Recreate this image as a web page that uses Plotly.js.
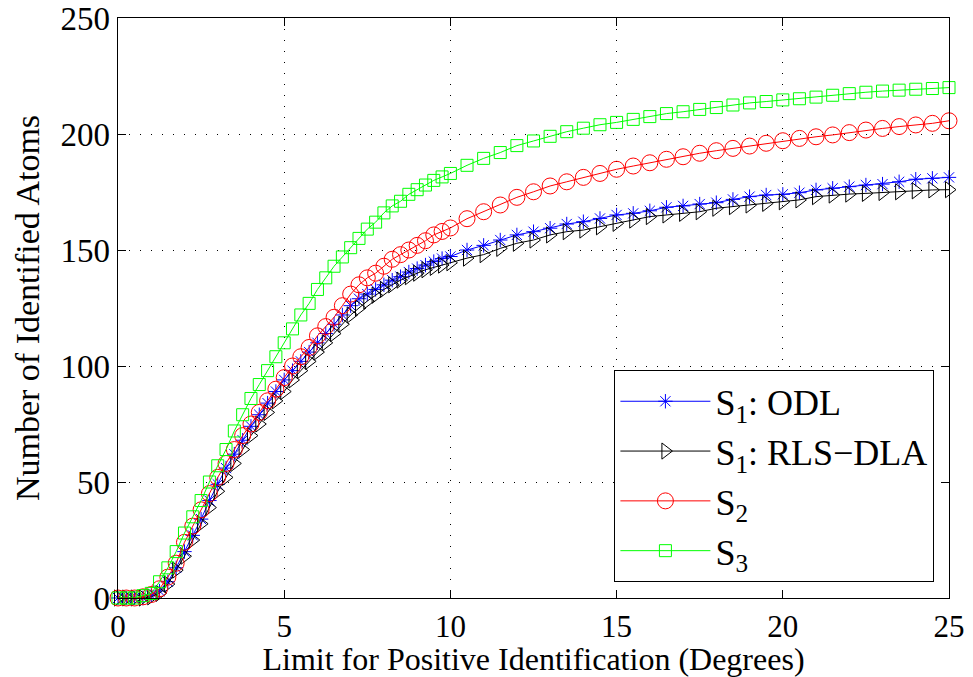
<!DOCTYPE html>
<html>
<head>
<meta charset="utf-8">
<script src="https://cdn.plot.ly/plotly-3.0.1.min.js"></script>
<style>html,body{margin:0;padding:0;background:#fff;}#chart{width:973px;height:677px;}</style>
</head>
<body>
<div id="chart"></div>
<script>
// Limit for positive identification (degrees)
const limits = [0,0.25,0.5,0.75,1,1.25,1.5,1.75,2,2.25,2.5,2.75,3,3.25,3.5,3.75,4,4.25,4.5,4.75,5,5.25,5.5,5.75,6,6.25,6.5,6.75,7,7.25,7.5,7.75,8,8.25,8.5,8.75,9,9.25,9.5,9.75,10,
  10.5,11,11.5,12,12.5,13,13.5,14,14.5,15,15.5,16,16.5,17,17.5,18,18.5,19,19.5,20,20.5,21,21.5,22,22.5,23,23.5,24,24.5,25];

const s1ODL = [0,0,0,0,1,3,7,13,20,27,34,42,49,56,62,68,74,79,84,89,94,98,102,106,110,114,118,122,126,129,131,133,135,137,138.5,140.5,142,143.5,145,146.3,147.2,
  150,152,154.3,156.5,157.9,159.4,161.2,162.2,163.6,165.1,165.8,166.9,168.4,169,169.8,170.4,171.8,173,173.7,174,174.7,175.9,176.6,177.3,178,178.4,179.4,180.5,180.9,181.3];

const s1RLS = [0,0,0,0,0.5,2,6,12,18,25,32,39,46,52,58,64,70,75,80,85,89,94,98,102,106,110,114,118,122,125,128,130.5,133,135,137,138.5,140,141.5,142.5,143.5,144.5,
  146.5,148,150.7,152.9,154.3,156.5,157.9,158.6,160,161.5,162.9,164.4,165.1,165.8,166.5,168,168.7,169.4,170.1,170.8,171.6,173,173.7,174.1,174.4,174.8,175.1,175.5,175.9,176];

const s2 = [0,0,0,0.5,1.5,4,9,15,24,31,38,45,52,58,64,70,75,80,85,90,95,100,104,108,113,117,121,126,131,135,138,140,143,146,148,150,152,154,156.5,158,159.5,
  163.5,166.5,169.4,172.7,175.1,177.6,179.4,181.3,183,184.8,186.2,187.6,189.1,190.2,191.7,192.8,193.8,194.8,196,197.1,198.1,198.8,199.6,200.6,201.7,202.4,203.2,203.9,204.6,205.7];

const s3 = [0,0,0,1,2,7,13,20,28,35,42,50,57,64,72,79,86,92,98,104,110,116,122,127,133,138,143,147,151,155,159,162,166,169,171,174,176,178,180,181.5,183,
  186.5,189.5,192,195,197,199,201,202.5,204,205,206.3,207.5,208.8,209.6,210.6,211.4,212.5,213.4,214,214.7,215.2,215.9,216.7,217.4,218,218.5,218.9,219.3,219.6,220];

const seriesNames = ['S<sub>1</sub>: ODL', 'S<sub>1</sub>: RLS\u2212DLA', 'S<sub>2</sub>', 'S<sub>3</sub>'];
const xTicks = [0,5,10,15,20,25];
const yTicks = [0,50,100,150,200,250];

const FAM = 'Liberation Serif';

function tr(y, name, color, symbol, size, group) {
  return {
    x: limits, y: y, name: name, type: 'scatter', mode: 'lines+markers',
    legendgroup: group,
    line: {color: color, width: 1},
    marker: {symbol: symbol, size: size, color: color, line: {color: color, width: 1}},
    cliponaxis: false
  };
}

const data = [
  tr(s1ODL, seriesNames[0], '#0000ff', 'asterisk-open', 12, 'a'),
  tr(s1RLS, seriesNames[1], '#000000', 'triangle-right-open', 14, 'b'),
  tr(s2, seriesNames[2], '#ff0000', 'circle-open', 16, 'c'),
  tr(s3, seriesNames[3], '#00ff00', 'square-open', 12, 'd')
];

function axis(extra) {
  return Object.assign({
    showline: true, linecolor: '#000', linewidth: 1.3, mirror: 'ticks',
    ticks: 'inside', ticklen: 8, tickwidth: 1, tickcolor: '#000',
    showgrid: true, gridcolor: '#000', gridwidth: 1, griddash: '1px,10px',
    zeroline: false, ticklabeloverflow: 'allow'
  }, extra);
}

const layout = {
  width: 973, height: 677,
  margin: {l: 118, r: 24, t: 18, b: 79},
  paper_bgcolor: '#fff', plot_bgcolor: '#fff',
  font: {family: FAM, color: '#000', size: 31},
  xaxis: axis({
    range: [0, 25], tickvals: xTicks, ticktext: xTicks.map(String),
    tickfont: {family: FAM, size: 31, color: '#000'},
    title: {text: 'Limit for Positive Identification (Degrees)', font: {family: FAM, size: 32, color: '#000'}, standoff: 2}
  }),
  yaxis: axis({
    range: [0, 250], tickvals: yTicks, ticktext: yTicks.map(String),
    tickfont: {family: FAM, size: 33, color: '#000'},
    title: {text: 'Number of Identified Atoms', font: {family: FAM, size: 34, color: '#000'}, standoff: 10}
  }),
  showlegend: true,
  legend: {
    x: 0.597, y: 0.393, xanchor: 'left', yanchor: 'top',
    bgcolor: '#fff', bordercolor: '#000', borderwidth: 1.3,
    font: {family: FAM, size: 36, color: '#000'},
    itemwidth: 90, tracegroupgap: 0
  }
};

Plotly.newPlot('chart', data, layout, {displayModeBar: false, staticPlot: true});
</script>
</body>
</html>
